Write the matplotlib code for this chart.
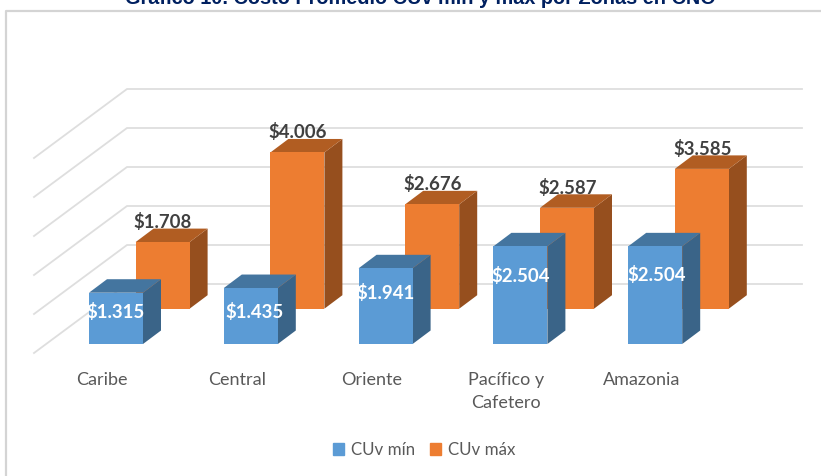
import matplotlib
matplotlib.use('Agg')
import matplotlib.pyplot as plt
from matplotlib.patches import Polygon, Patch

plt.rcParams['font.family'] = ['Lato', 'DejaVu Sans']

zonas = ['Caribe', 'Central', 'Oriente', 'Pacífico y\nCafetero', 'Amazonia']
cuv_min = [1315, 1435, 1941, 2504, 2504]
cuv_max = [1708, 4006, 2676, 2587, 3585]
etiq_min = ['$1.315', '$1.435', '$1.941', '$2.504', '$2.504']
etiq_max = ['$1.708', '$4.006', '$2.676', '$2.587', '$3.585']
niveles = [0, 1000, 2000, 3000, 4000, 5000]

# escala: pixeles de la imagen original
W, H = 821, 476
px_x = 134.8      # px por categoria
px_y = 0.039      # px por unidad
x0_px = 116.0     # centro de la barra azul de Caribe
y0_px = 344.0     # base de la barra azul


def dx(p):
    return p / px_x


def dy(p):
    return p / px_y


def py(p):
    # pixel y de la imagen -> valor
    return (y0_px - p) / px_y


fig = plt.figure(figsize=(W / 100, H / 100), dpi=100)
ax = fig.add_axes([0, 0, 1, 1])
ax.set_xlim(-x0_px / px_x, (W - x0_px) / px_x)
ax.set_ylim(py(H), py(0))
ax.axis('off')


def px(p):
    return (p - x0_px) / px_x


# marco
ax.plot([px(5.5), px(5.5), px(821)], [py(476), py(10.5), py(10.5)], color='#D4D4D4', lw=1.6, zorder=1)

# paredes con lineas de division
for v in niveles:
    y_frente = py(353) + v
    y_fondo = py(284) + v
    ax.plot([px(34), px(127), px(802)], [y_frente, y_fondo, y_fondo], color='#DEDEDE', lw=1.3, zorder=2)


def barra(xc, base, valor, frente, tapa, lado, z):
    w = dx(27)
    d_x, d_y = dx(18), dy(13.5)
    top = base + valor
    ax.add_patch(Polygon([(xc + w, base), (xc + w + d_x, base + d_y), (xc + w + d_x, top + d_y), (xc + w, top)],
                         fc=lado, ec='none', zorder=z))
    ax.add_patch(Polygon([(xc - w, top), (xc - w + d_x, top + d_y), (xc + w + d_x, top + d_y), (xc + w, top)],
                         fc=tapa, ec='none', zorder=z))
    ax.bar(xc, valor, width=2 * w, bottom=base, color=frente, zorder=z + 0.1)


base_max = py(308.7)
for i in range(len(zonas)):
    barra(i + dx(46.6), base_max, cuv_max[i], '#ED7D31', '#B15D22', '#964F1E', 3 + i)
    barra(i, 0, cuv_min[i], '#5B9BD5', '#44759F', '#3A6488', 3.5 + i)
    ax.text(i + dx(47), base_max + cuv_max[i] + dy(20), etiq_max[i], color='#404040', fontsize=13.4,
            fontweight='bold', ha='center', va='center', zorder=20)

# etiquetas azules, colocadas a mano como en el original
lab_x = [116, 255, 386, 521, 657]
lab_y = [312, 312, 293, 276, 275]
for i in range(len(zonas)):
    ax.text(px(lab_x[i]), py(lab_y[i]), etiq_min[i], color='white', fontsize=13.4, fontweight='bold',
            ha='center', va='center', zorder=20)

# categorias
for i, z in enumerate(zonas):
    if '\n' in z:
        ax.text(i + dx(-14), py(380), z.split('\n')[0], color='#595959', fontsize=13, ha='center', va='center')
        ax.text(i + dx(-14), py(403), z.split('\n')[1], color='#595959', fontsize=13, ha='center', va='center')
    else:
        ax.text(i + dx(-14), py(380), z, color='#595959', fontsize=13, ha='center', va='center')

# leyenda
handles = [Patch(color='#5B9BD5', label='CUv mín'), Patch(color='#ED7D31', label='CUv máx')]
ax.legend(handles=handles, loc='center', bbox_to_anchor=(424 / W, 1 - 450 / H), ncol=2, frameon=False, fontsize=12.2,
          labelcolor='#595959', handlelength=0.65, handleheight=0.65, handletextpad=0.4, columnspacing=0.9)

# titulo, cortado arriba como en el original
ax.text(px(420), py(-1), 'Gráfico 10. Costo Promedio CUv mín y máx por Zonas en CNO', color='#002060',
        fontsize=14.3, fontweight='bold', family=['Liberation Sans'], ha='center', va='center', clip_on=True)

fig.savefig('out.png', dpi=100)
